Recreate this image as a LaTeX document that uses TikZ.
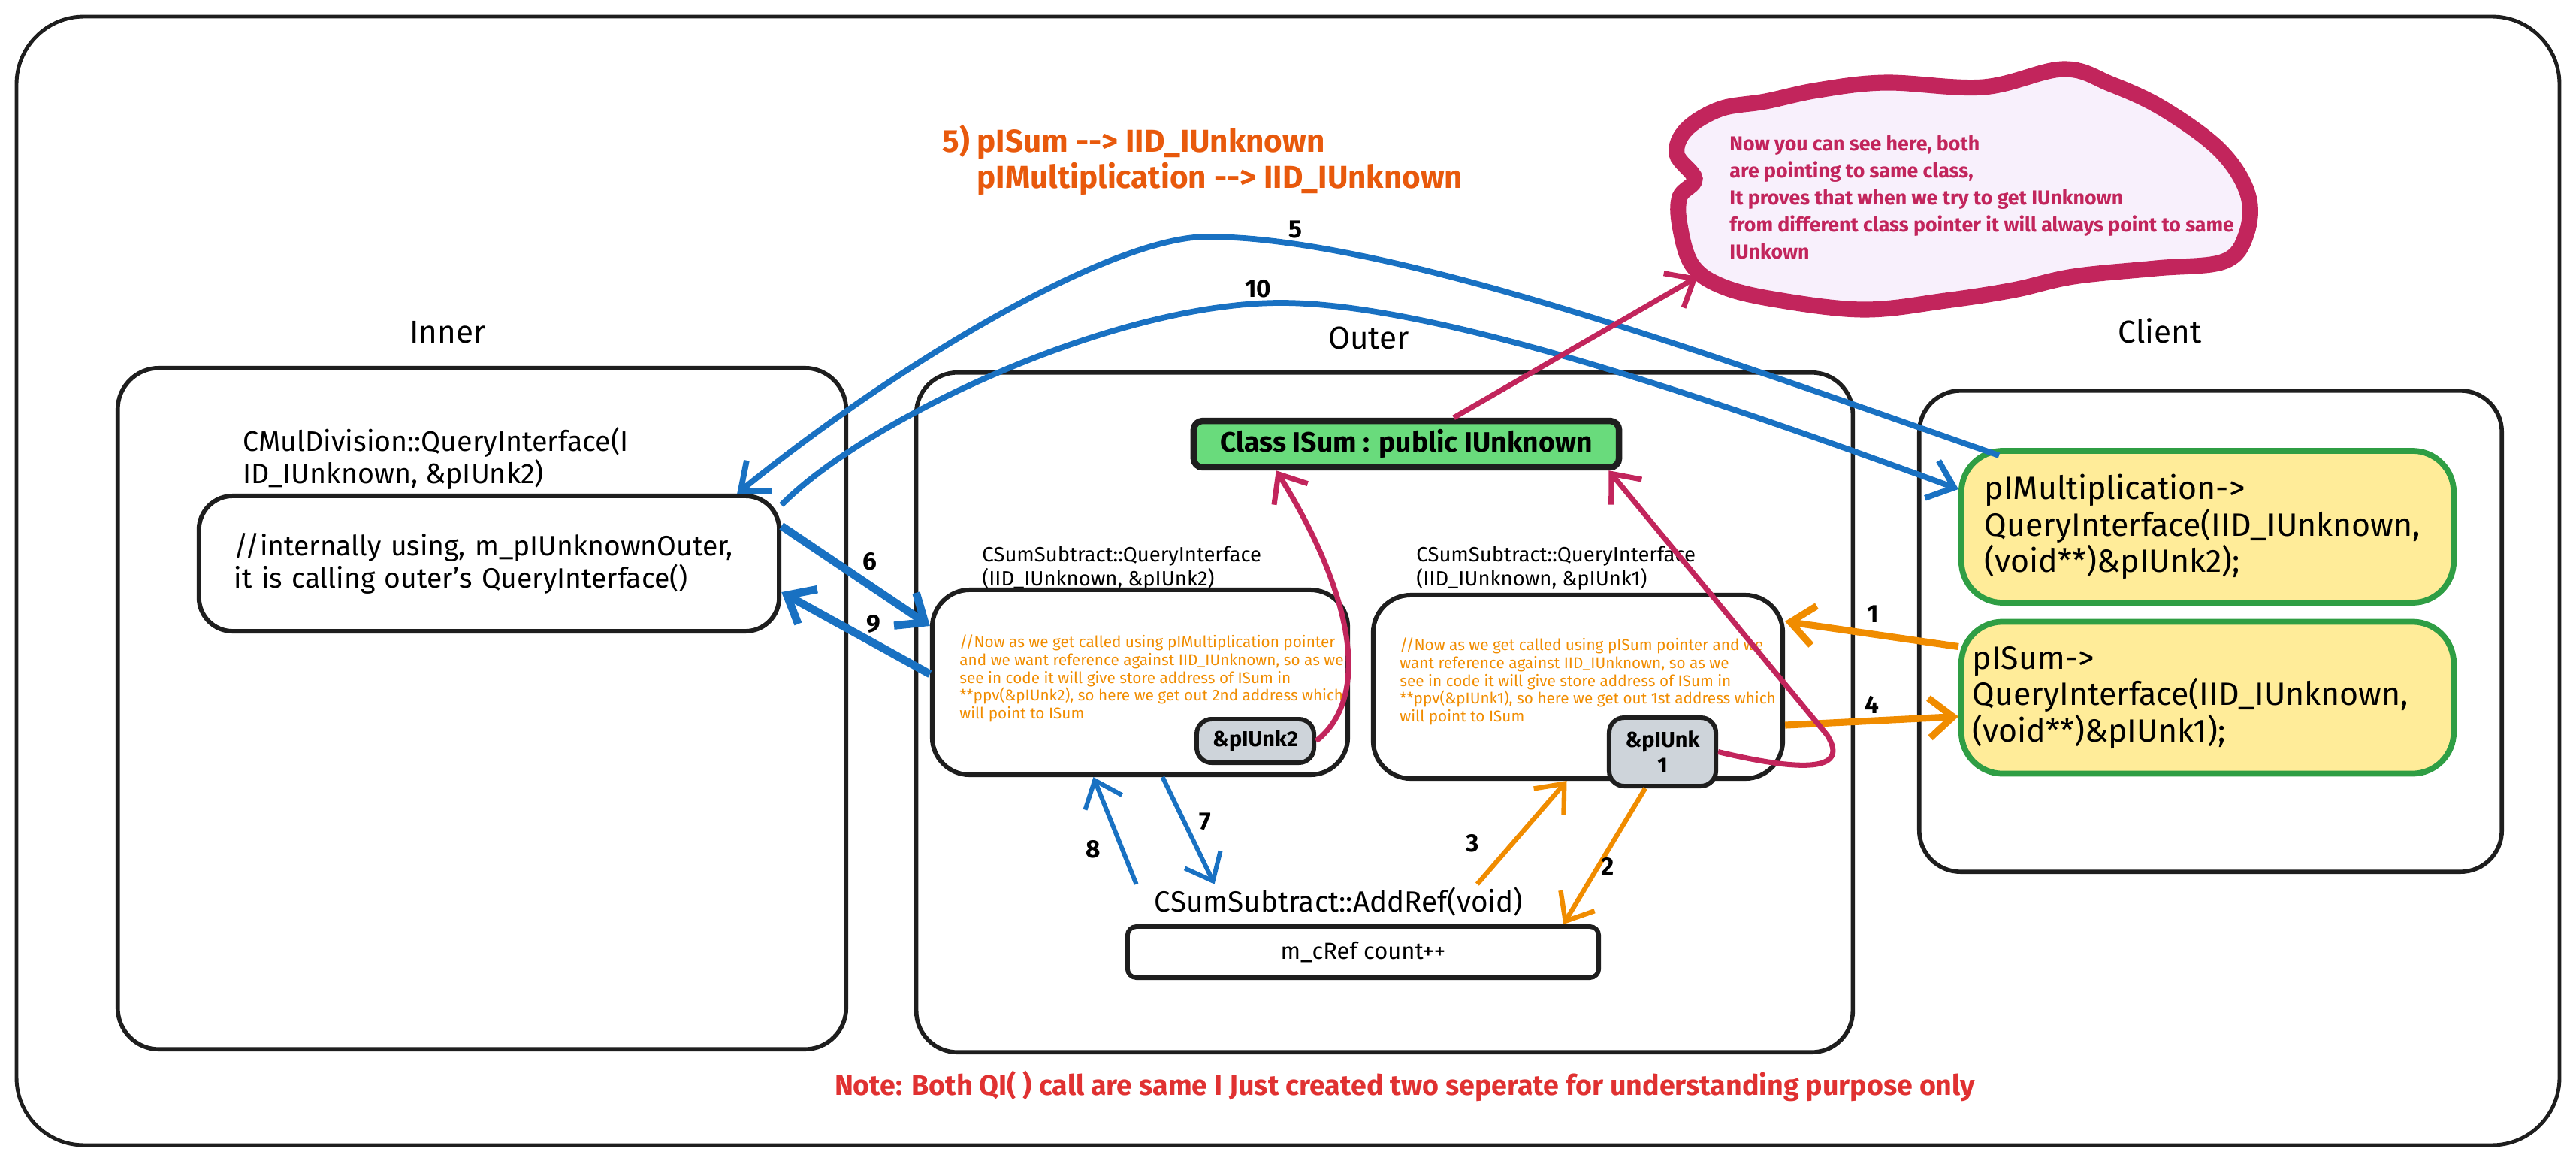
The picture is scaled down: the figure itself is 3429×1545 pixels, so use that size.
\documentclass[tikz,border=0pt]{standalone}
\usepackage{fontspec}
\setmainfont{Fira Sans}
\usetikzlibrary{arrows.meta}
\definecolor{ink}{HTML}{1E1E1E}
\definecolor{skblue}{HTML}{1971C2}
\definecolor{skorange}{HTML}{F08C00}
\definecolor{skpink}{HTML}{C2255C}
\definecolor{isumgreen}{HTML}{69DB7C}
\definecolor{callyellow}{HTML}{FFEC99}
\definecolor{callgreen}{HTML}{2F9E44}
\definecolor{taggrey}{HTML}{CED4DA}
\definecolor{cloudfill}{HTML}{F8F0FC}
\definecolor{titleorange}{HTML}{E8590C}
\definecolor{notered}{HTML}{E03131}

\begin{document}
\begin{tikzpicture}[x=0.01cm,y=-0.01cm,
	>={Straight Barb[length=9pt,width=15pt]},
	panel/.style={draw=ink,line width=1.6pt,rounded corners=0.55cm},
	qibox/.style={draw=ink,line width=1.7pt,rounded corners=0.5cm},
	callbox/.style={draw=callgreen,fill=callyellow,line width=2.2pt,rounded corners=0.55cm,align=left,
		minimum width=6.55cm,minimum height=2.02cm,font=\fontsize{12.2}{13.8}\selectfont},
	tag/.style={draw=ink,fill=taggrey,line width=1.7pt,rounded corners=0.2cm,font=\bfseries\fontsize{8.2}{9.8}\selectfont},
	head/.style={font=\fontsize{12}{14}\selectfont},
	sig/.style={anchor=west,align=left,font=\fontsize{7.8}{7}\selectfont},
	remark/.style={anchor=north west,align=left,text=skorange,font=\fontsize{5.9}{6.8}\selectfont},
	num/.style={font=\bfseries\fontsize{9.5}{10}\selectfont},
	bluearr/.style={draw=skblue,line width=2.2pt,->},
	orangearr/.style={draw=skorange,line width=2.6pt,->},
	pinkarr/.style={draw=skpink,line width=2pt,->}]
	\useasboundingbox (0,0) rectangle (3429,1545);
	\draw[ink,line width=1.4pt,rounded corners=0.9cm] (22,22) rectangle (3407,1524);

	\node[panel,minimum width=9.69cm,minimum height=9.06cm] (inner) at (641.5,943) {};
	\node[panel,minimum width=12.46cm,minimum height=9.04cm] (outer) at (1843,948) {};
	\node[panel,minimum width=7.75cm,minimum height=6.40cm] (client) at (2942.5,840) {};
	\node[head] (innerhd) at (596,442) {Inner};
	\node[head] (outerhd) at (1822,450) {Outer};
	\node[head] (clienthd) at (2875,440) {Client};

	\node[anchor=west,align=left,font=\fontsize{10.7}{10.5}\selectfont] (innersig) at (311,610) {CMulDivision::QueryInterface(I\\ID\_IUnknown, \&pIUnk2)};
	\node[qibox,rounded corners=0.45cm,minimum width=7.72cm,minimum height=1.8cm,text width=7.2cm,inner xsep=0.26cm,align=left,font=\fontsize{10.6}{10.8}\selectfont] (innerqi) at (651,750) {\hspace*{6pt}//internally using, m\_pIUnknownOuter,\\\hspace*{6pt}it is calling outer's QueryInterface()};

	\node[fill=isumgreen,draw=ink,line width=2.4pt,rounded corners=0.12cm,minimum width=5.66cm,minimum height=0.58cm,font=\bfseries\fontsize{10.6}{11}\selectfont] (isum) at (1872,591) {Class ISum : public IUnknown};

	\node[sig] (lqisig) at (1295,756) {CSumSubtract::QueryInterface\\(IID\_IUnknown, \&pIUnk2)};
	\node[qibox,minimum width=5.53cm,minimum height=2.46cm] (lqi) at (1517.5,908) {};
	\node[remark] (lqinote) at (1265,832) {//Now as we get called using pIMultiplication pointer\\and we want reference against IID\_IUnknown, so as we\\see in code it will give store address of ISum in\\**ppv(\&pIUnk2), so here we get out 2nd address which\\will point to ISum};
	\node[sig] (rqisig) at (1873,756) {CSumSubtract::QueryInterface\\(IID\_IUnknown, \&pIUnk1)};
	\node[qibox,minimum width=5.45cm,minimum height=2.44cm] (rqi) at (2100.5,914) {};
	\node[remark] (rqinote) at (1851,836) {//Now as we get called using pISum pointer and we\\want reference against IID\_IUnknown, so as we\\see in code it will give store address of ISum in\\**ppv(\&pIUnk1), so here we get out 1st address which\\will point to ISum};
	\node[tag,minimum width=1.56cm,minimum height=0.58cm] (unk2) at (1671,986) {\&pIUnk2};
	\node[tag,minimum width=1.42cm,minimum height=0.91cm,align=center] (unk1) at (2213,1000.5) {\&pIUnk\\1};

	\node[font=\fontsize{11}{12}\selectfont,inner sep=1pt] (addref) at (1782,1200) {CSumSubtract::AddRef(void)};
	\node[draw=ink,line width=1.7pt,rounded corners=0.12cm,minimum width=6.27cm,minimum height=0.68cm,font=\fontsize{8.8}{10}\selectfont] (cref) at (1814.5,1267) {m\_cRef count++};

	\node[callbox,inner xsep=0.31cm,text width=5.93cm] (mulcall) at (2938.5,701) {pIMultiplication->\\QueryInterface(IID\_IUnknown,\\(void**)\&pIUnk2);};
	\node[callbox,inner xsep=0.15cm,text width=6.25cm] (sumcall) at (2938.5,928.5) {pISum->\\QueryInterface(IID\_IUnknown,\\(void**)\&pIUnk1);};

	\draw[skpink,line width=6pt,fill=cloudfill] plot[smooth cycle,tension=0.6] coordinates {(2290,145) (2350,135) (2420,120) (2510,110) (2640,116) (2746,92) (2810,112) (2880,145) (2955,200) (2992,258) (2990,312) (2960,348) (2870,357) (2760,368) (2680,386) (2590,400) (2480,412) (2360,398) (2290,380) (2252,352) (2236,300) (2236,262) (2256,238) (2232,205) (2245,172)};
	\coordinate (cloudtip) at (2260,368);
	\node[anchor=north west,align=left,text=skpink,font=\bfseries\fontsize{7.6}{10.2}\selectfont] (cloudtxt) at (2290,168) {Now you can see here, both\\are pointing to same class,\\It proves that when we try to get IUnknown\\from different class pointer it will always point to same\\IUnkown};

	\node[anchor=west,align=left,text=titleorange,font=\bfseries\fontsize{12}{13.5}\selectfont] (qtitle) at (1242,213) {5) pISum -{}-> IID\_IUnknown\\\phantom{5) }pIMultiplication -{}-> IID\_IUnknown};
	\node[text=notered,font=\bfseries\fontsize{10.7}{12}\selectfont] (note) at (1870,1445) {Note: Both QI( ) call are same I Just created two seperate for understanding purpose only};

	\draw[bluearr] ([xshift=5.4mm,yshift=-1mm]mulcall.north west) .. controls (2300,480) and (1850,315) .. (1607,315) .. controls (1480,315) and (1200,480) .. ([xshift=-5.9mm]innerqi.north east);
	\draw[bluearr] ([yshift=-1.5mm]innerqi.north east) .. controls (1150,560) and (1480,403) .. (1705,403) .. controls (1900,403) and (2250,520) .. ([yshift=5mm]mulcall.west);
	\draw[bluearr,line width=3pt] ([yshift=5mm]innerqi.east) -- ([yshift=7.5mm]lqi.west);
	\draw[bluearr,line width=3pt] ([yshift=1.1mm]lqi.west) -- ([yshift=-3.8mm]innerqi.east);
	\draw[bluearr,line width=1.7pt] ([xshift=3mm]lqi.south) -- ([xshift=8.4mm]addref.north west);
	\draw[bluearr,line width=1.7pt] ([xshift=-2mm]addref.north west) -- ([xshift=-6.2mm]lqi.south);
	\draw[orangearr,line width=1.8pt] ([xshift=-6.5mm]addref.north east) -- ([xshift=-1.5mm]rqi.south);
	\draw[orangearr,line width=1.8pt] ([xshift=-2.3mm]unk1.south) -- ([xshift=-5mm]cref.north east);
	\draw[orangearr] ([yshift=6.8mm]sumcall.west) -- ([yshift=8.7mm]rqi.east);
	\draw[orangearr] ([yshift=-5.1mm]rqi.east) -- ([yshift=-2.5mm]sumcall.west);
	\draw[pinkarr] (unk2.east) .. controls (1830,925) and (1795,780) .. ([xshift=11.4mm]isum.south west);
	\draw[pinkarr] (unk1.east) .. controls (2390,1025) and (2465,1030) .. (2432,978) -- ([xshift=-1.8mm]isum.south east);
	\draw[pinkarr] ([xshift=6.3mm]isum.north) -- (cloudtip);

	\node[num] (n5) at (1724,305) {5};
	\node[num] (n10) at (1675,384) {10};
	\node[num] (n6) at (1158,747) {6};
	\node[num] (n9) at (1163,830) {9};
	\node[num] (n7) at (1604,1093) {7};
	\node[num] (n8) at (1455,1130) {8};
	\node[num] (n3) at (1960,1122) {3};
	\node[num] (n2) at (2140,1153) {2};
	\node[num] (n1) at (2493,817) {1};
	\node[num] (n4) at (2492,938) {4};
\end{tikzpicture}
\end{document}
